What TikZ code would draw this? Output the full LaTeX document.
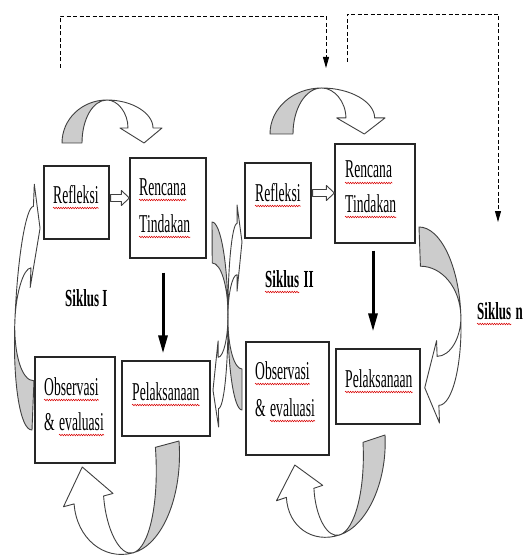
\documentclass[tikz,border=0pt]{standalone}
\usepackage{fontspec}
\usetikzlibrary{arrows.meta,calc,decorations.pathmorphing}
\newfontfamily\tf[FakeStretch=0.53]{Liberation Serif}
\definecolor{cgray}{RGB}{204,204,204}
% curved block arrow: origin (#1,#2), along-vector (#3,#4), height-vector (#5,#6)
\newcommand\curvarr[6]{%
  \foreach \nm/\cu/\cv in {B1/0/0,Ca/0/24,Cb/20/43,P/45/43,Cc/31/43,Cd/20/24,B2/20/0,Ce/70/43,Cf/91/30,N2/91/15,W2/100/15,T/82/0,W1/58/15,N1/66/15,Cg/66/30,Ch/56/43}{%
    \coordinate (k\nm) at ({#1+\cu*(#3)+\cv*(#5)},{#2+\cu*(#4)+\cv*(#6)});}%
  \draw[carr,fill=cgray] (kB1) .. controls (kCa) and (kCb) .. (kP) .. controls (kCc) and (kCd) .. (kB2) -- cycle;
  \draw[carr,fill=white] (kP) .. controls (kCe) and (kCf) .. (kN2) -- (kW2) -- (kT) -- (kW1) -- (kN1) .. controls (kCg) and (kCh) .. (kP) -- cycle;}
\newcommand\wavy[1]{\draw[wave] ([yshift=-5pt]#1.base west) -- ([yshift=-5pt]#1.base east);}
\begin{document}
\begin{tikzpicture}[x=1pt,y=-1pt,
  box/.style={draw=black!85,line width=1.2pt,fill=white,inner sep=0pt},
  lbl/.style={inner sep=0pt,anchor=base west,font=\tf\fontsize{25.7}{30}\selectfont},
  slbl/.style={inner sep=0pt,anchor=base west,font=\tf\bfseries\fontsize{24.5}{28}\selectfont},
  carr/.style={draw=black!75,line width=0.9pt,line join=round},
  thk/.style={line width=3pt,-{Triangle[length=18pt,width=9pt]}},
  dsh/.style={line width=0.8pt,dash pattern=on 4pt off 2.5pt,-{Triangle[length=11pt,width=6pt]}},
  wave/.style={red!85!black,line width=0.5pt,decorate,decoration={snake,amplitude=0.8pt,segment length=2.4pt}}]
\useasboundingbox[fill=white] (0,0) rectangle (523,556);

% curved block arrows
\curvarr{62}{143}{1}{0}{0}{-1}
\curvarr{270}{134}{1.15}{0}{0}{-1.07}
\curvarr{32}{430}{0.098}{-2.46}{-0.5}{0.016}
\curvarr{242}{410}{0}{-2.05}{-0.33}{0}
\curvarr{212}{222}{0.012}{2.05}{0.36}{0}
\curvarr{419}{227}{0.07}{1.96}{0.9}{0}
\curvarr{179}{441}{-1.18}{0.317}{0.165}{2.27}
\curvarr{385}{435}{-1.10}{0.366}{0.10}{1.94}

% boxes
\node[box,minimum width=65pt,minimum height=73pt] (refl1) at (76.5,202.5) {};
\node[box,minimum width=76pt,minimum height=100pt] (renc1) at (168,208) {};
\node[box,minimum width=80pt,minimum height=106pt] (obs1) at (75,410) {};
\node[box,minimum width=88pt,minimum height=75pt] (pel1) at (166,398.5) {};
\node[box,minimum width=66pt,minimum height=75pt] (refl2) at (278,200.5) {};
\node[box,minimum width=80pt,minimum height=99pt] (renc2) at (375,193.5) {};
\node[box,minimum width=83pt,minimum height=113pt] (obs2) at (287.5,398.5) {};
\node[box,minimum width=84pt,minimum height=75pt] (pel2) at (378,386.5) {};

% texts
\node[lbl] (t1) at (53,203) {Refleksi};
\node[lbl] (t2) at (139,195) {Rencana};
\node[lbl] (t3) at (139,232) {Tindakan};
\node[lbl] (t4) at (44,395) {Observasi};
\node[lbl] (t5) at (44,430) {\&};
\node[lbl] (t5b) at ([xshift=4pt]t5.base east) {evaluasi};
\node[lbl] (t6) at (132,400) {Pelaksanaan};
\node[lbl] (t7) at (255,201) {Refleksi};
\node[lbl] (t8) at (345,178) {Rencana};
\node[lbl] (t9) at (345,212) {Tindakan};
\node[lbl] (t10) at (255,379) {Observasi};
\node[lbl] (t11) at (255,416) {\&};
\node[lbl] (t11b) at ([xshift=4pt]t11.base east) {evaluasi};
\node[lbl] (t12) at (345,387) {Pelaksanaan};
\node[slbl] (s1) at (65,306) {Siklus I};
\node[slbl] (s2) at (265,287) {Siklus};
\node[slbl] (s2b) at ([xshift=4pt]s2.base east) {II};
\node[slbl] (s3) at (477,319) {Siklus};
\node[slbl] (s3b) at ([xshift=4pt]s3.base east) {n};
\foreach \w in {t1,t2,t3,t4,t5b,t6,t7,t8,t9,t10,t11b,t12,s2,s3} {\wavy{\w}}

% hollow block arrows Refleksi -> Rencana
\coordinate (h1s) at ($(refl1.east)+(1,-4.5)$);
\coordinate (h1e) at (renc1.west |- h1s);
\draw[carr,fill=white] let \p1=(h1s), \p2=(h1e), \n1={\x2-\x1} in
  (h1s) ++(0pt,3.5pt) -- ++({\n1-8pt},0pt) -- ++(0pt,4pt) -- (h1e) -- ++(-8pt,-7.5pt) -- ++(0pt,4pt) -- ++({8pt-\n1},0pt) -- cycle;
\coordinate (h2s) at ($(refl2.east)+(1,-7.5)$);
\coordinate (h2e) at (renc2.west |- h2s);
\draw[carr,fill=white] let \p1=(h2s), \p2=(h2e), \n1={\x2-\x1} in
  (h2s) ++(0pt,3.5pt) -- ++({\n1-8pt},0pt) -- ++(0pt,4pt) -- (h2e) -- ++(-8pt,-7.5pt) -- ++(0pt,4pt) -- ++({8pt-\n1},0pt) -- cycle;

% thick arrows Rencana -> Pelaksanaan
\draw[thk] ($(renc1.south)+(-5,14)$) -- ($(pel1.north)+(-3,-7)$);
\draw[thk] ($(renc2.south)+(-2,7)$) -- ($(pel2.north)+(-5,-17)$);

% dashed feedback lines
\coordinate (d1a) at (60,68);
\coordinate (d1b) at (326,68);
\coordinate (d2a) at (347,62);
\coordinate (d2b) at (498,222);
\draw[dsh] (d1a) -- ++(0,-52) -| (d1b);
\draw[dsh] (d2a) -- ++(0,-48) -| (d2b);
\end{tikzpicture}
\end{document}
